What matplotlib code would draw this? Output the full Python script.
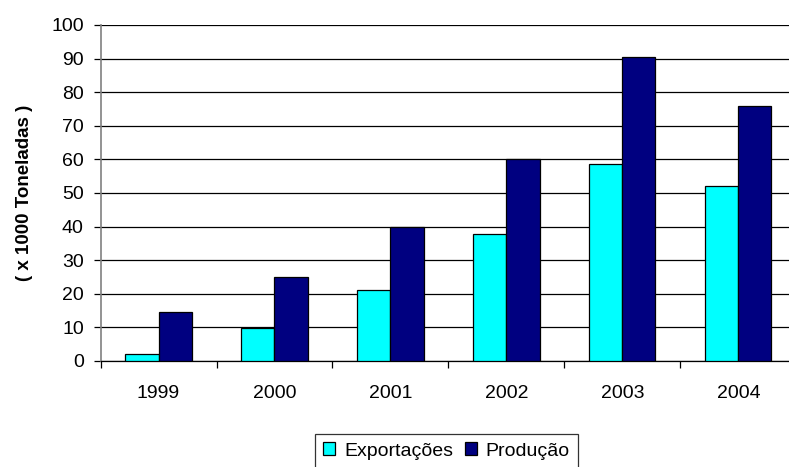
import numpy as np
import matplotlib
matplotlib.use("Agg")
import matplotlib.pyplot as plt

plt.rcParams['font.family'] = ['Liberation Sans', 'DejaVu Sans']

years = ['1999', '2000', '2001', '2002', '2003', '2004']
exportacoes = [2, 9.7, 21, 37.7, 58.6, 52]
producao = [14.7, 25, 39.8, 60.2, 90.4, 76]

fig = plt.figure(figsize=(7.89, 4.67), dpi=100)
# plot area runs a little past the right edge of the figure
ax = fig.add_axes([0.1274, 0.227, 0.882, 0.7195])

x = np.arange(len(years))
w = 0.285
b1 = ax.bar(x - w / 2, exportacoes, w, color='#00ffff', edgecolor='black',
            linewidth=0.9, label='Exportações', zorder=3)
b2 = ax.bar(x + w / 2, producao, w, color='#000080', edgecolor='black',
            linewidth=0.9, label='Produção', zorder=3)

ax.set_xlim(-0.5, len(years) - 0.5)
ax.set_ylim(0, 100)
ax.set_yticks(range(0, 101, 10))
ax.set_xticks(x)
ax.set_xticklabels(years)
# tick marks sit between the categories
ax.set_xticks(np.arange(-0.5, len(years), 1), minor=True)
ax.tick_params(axis='x', which='major', length=0, pad=17, labelsize=14)
ax.tick_params(axis='x', which='minor', length=5, width=0.9, direction='out')
ax.tick_params(axis='y', length=5, width=0.9, direction='out', pad=7, labelsize=14)

ax.yaxis.grid(True, color='black', linewidth=0.9, zorder=0)
for s in ['top', 'right']:
    ax.spines[s].set_visible(False)
ax.spines['left'].set_color('#808080')
ax.spines['left'].set_linewidth(1.2)
ax.spines['bottom'].set_linewidth(0.9)

ax.set_ylabel('( x 1000 Toneladas )', fontsize=13.5, fontweight='bold', labelpad=13)

leg = fig.legend(handles=[b1, b2], loc='center', bbox_to_anchor=(446.5 / 789, 1 - 451 / 467),
                 ncol=2, fontsize=14, frameon=True, fancybox=False,
                 handlelength=0.62, handleheight=0.62, handletextpad=0.45,
                 columnspacing=0.6, borderpad=0.45, borderaxespad=0)
leg.get_frame().set_edgecolor('black')
leg.get_frame().set_linewidth(0.9)

fig.savefig('out.png', dpi=100)
